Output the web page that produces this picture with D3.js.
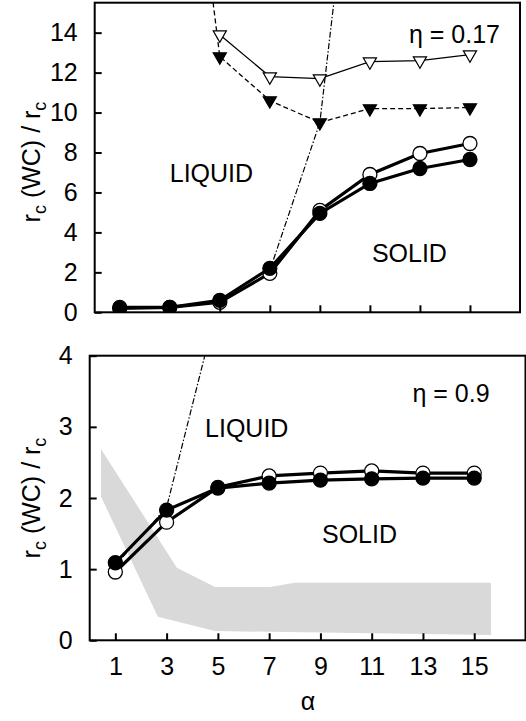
<!DOCTYPE html>
<html>
<head>
<meta charset="utf-8">
<script src="https://cdn.jsdelivr.net/npm/d3@7"></script>
<style>
body { margin: 0; background: #fff; }
svg { display: block; font-family: "Liberation Sans", Arial, sans-serif; }
</style>
</head>
<body>
<div id="chart"></div>
<script>
// alpha values shared by both panels
var alphas = [1, 3, 5, 7, 9, 11, 13, 15];

// top panel (eta = 0.17)
var topOpenCircles = [0.25, 0.25, 0.5, 1.95, 5.1, 6.9, 7.95, 8.45];
var topFilledCircles = [0.2, 0.25, 0.6, 2.2, 4.95, 6.45, 7.2, 7.65];
var openTriAlpha = [5, 7, 9, 11, 13, 15];
var openTriValues = [13.9, 11.8, 11.7, 12.55, 12.6, 12.9];
var filledTriAlpha = [3, 5, 7, 9, 11, 13, 15];
var filledTriValues = [33, 12.8, 10.6, 9.5, 10.2, 10.2, 10.25];
var topBoundaryAlpha = [7, 9, 11];
var topBoundaryValues = [2.1, 9.5, 31];
var topYTicks = [0, 2, 4, 6, 8, 10, 12, 14];

// bottom panel (eta = 0.9)
var botOpenCircles = [0.96, 1.66, 2.15, 2.31, 2.35, 2.38, 2.35, 2.35];
var botFilledCircles = [1.09, 1.83, 2.14, 2.21, 2.25, 2.27, 2.28, 2.28];
var botBoundaryAlpha = [1, 3, 5];
var botBoundaryValues = [1.05, 1.87, 4.73];
var bandUpperAlpha = [0.44, 3.4, 4.89, 7.03, 8.0, 15.65];
var bandUpper = [2.69, 1.02, 0.75, 0.75, 0.81, 0.81];
var bandLowerAlpha = [0.44, 2.66, 4.89, 15.65];
var bandLower = [2.02, 0.33, 0.13, 0.075];
var botYTicks = [0, 1, 2, 3, 4];
var xTicks = [1, 3, 5, 7, 9, 11, 13, 15];

var FS = 25;
var svg = d3.select("#chart").append("svg").attr("width", 526).attr("height", 721);

function zip(xs, ys) { return xs.map(function(a, i) { return [a, ys[i]]; }); }

function panel(opt) {
	var x = d3.scaleLinear().domain([0, 17]).range([opt.left, opt.right]);
	var y = d3.scaleLinear().domain([0, opt.ymax]).range([opt.bottom, opt.top]);
	var g = svg.append("g");
	var clipId = "clip" + opt.name;
	svg.append("clipPath").attr("id", clipId).append("rect")
		.attr("x", opt.left).attr("y", opt.top)
		.attr("width", opt.right - opt.left).attr("height", opt.bottom - opt.top);
	var plot = g.append("g").attr("clip-path", "url(#" + clipId + ")");
	var line = d3.line().x(function(d) { return x(d[0]); }).y(function(d) { return y(d[1]); });

	var ya = d3.axisLeft(y).tickValues(opt.yticks).tickSize(-7).tickPadding(17).tickFormat(d3.format("d"));
	g.append("g").attr("transform", "translate(" + opt.left + ",0)").call(ya);
	var xa = d3.axisBottom(x).tickValues(xTicks).tickSize(-7).tickPadding(17).tickFormat(opt.xlabels ? d3.format("d") : "");
	g.append("g").attr("transform", "translate(0," + opt.bottom + ")").call(xa);
	g.selectAll(".domain").remove();
	g.selectAll(".tick line").attr("stroke", "#000").attr("stroke-width", 2);
	g.selectAll(".tick text").attr("font-size", FS).attr("fill", "#000")
		.attr("font-family", "'Liberation Sans', Arial, sans-serif");

	g.append("rect").attr("x", opt.left).attr("y", opt.top)
		.attr("width", opt.right - opt.left).attr("height", opt.bottom - opt.top)
		.attr("fill", "none").attr("stroke", "#000").attr("stroke-width", 2);

	var lab = g.append("text").attr("font-size", FS)
		.attr("transform", "translate(40," + opt.labelY + ") rotate(-90)")
		.attr("text-anchor", "middle");
	lab.append("tspan").text("r");
	lab.append("tspan").attr("dy", 6).attr("font-size", 18).text("c");
	lab.append("tspan").attr("dy", -6).text(" (WC) / r");
	lab.append("tspan").attr("dy", 6).attr("font-size", 18).text("c");

	opt.notes.forEach(function(n) {
		g.append("text").attr("x", x(n.a)).attr("y", y(n.v)).attr("font-size", FS)
			.attr("text-anchor", n.anchor).text(n.t);
	});
	return { x: x, y: y, plot: plot, line: line };
}

function circles(p, vals, filled) {
	var pts = zip(alphas, vals);
	p.plot.append("path").attr("d", p.line(pts)).attr("fill", "none")
		.attr("stroke", "#000").attr("stroke-width", 3.2);
	p.plot.selectAll(null).data(pts).enter().append("circle")
		.attr("cx", function(d) { return p.x(d[0]); })
		.attr("cy", function(d) { return p.y(d[1]); })
		.attr("r", 7)
		.attr("fill", filled ? "#000" : "#fff")
		.attr("stroke", "#000").attr("stroke-width", 1.3);
}

function triangles(p, xs, vals, filled, dash) {
	var pts = zip(xs, vals);
	p.plot.append("path").attr("d", p.line(pts)).attr("fill", "none")
		.attr("stroke", "#000").attr("stroke-width", 1.3)
		.attr("stroke-dasharray", dash ? "5,3" : null);
	var sym = d3.symbol().type(d3.symbolTriangle).size(75);
	p.plot.selectAll(null).data(pts).enter().append("path")
		.attr("d", sym)
		.attr("transform", function(d) { return "translate(" + p.x(d[0]) + "," + p.y(d[1]) + ") rotate(180)"; })
		.attr("fill", filled ? "#000" : "#fff")
		.attr("stroke", "#000").attr("stroke-width", 1.2);
}

// ---- top panel
var topP = panel({ name: "top", left: 94.7, right: 520, top: 2.7, bottom: 312.3, ymax: 15.5,
	yticks: topYTicks, xlabels: false, labelY: 162,
	notes: [{ a: 3.0, v: 6.5, t: "LIQUID", anchor: "start" },
		{ a: 11.08, v: 2.5, t: "SOLID", anchor: "start" },
		{ a: 16.2, v: 13.5, t: "\u03b7 = 0.17", anchor: "end" }] });

topP.plot.append("path").attr("d", topP.line(zip(topBoundaryAlpha, topBoundaryValues)))
	.attr("fill", "none").attr("stroke", "#000").attr("stroke-width", 1.2)
	.attr("stroke-dasharray", "6,2,1.5,2");
triangles(topP, filledTriAlpha, filledTriValues, true, true);
triangles(topP, openTriAlpha, openTriValues, false, false);
circles(topP, topOpenCircles, false);
circles(topP, topFilledCircles, true);

// ---- bottom panel
var botP = panel({ name: "bot", left: 89.7, right: 525.5, top: 355.7, bottom: 640.3, ymax: 4,
	yticks: botYTicks, xlabels: true, labelY: 498,
	notes: [{ a: 4.5, v: 2.86, t: "LIQUID", anchor: "start" },
		{ a: 9.06, v: 1.37, t: "SOLID", anchor: "start" },
		{ a: 15.6, v: 3.35, t: "\u03b7 = 0.9", anchor: "end" }] });

var band = zip(bandUpperAlpha, bandUpper).concat(zip(bandLowerAlpha, bandLower).reverse());
botP.plot.append("path").attr("d", botP.line(band) + "Z").attr("fill", "#d9d9d9");
circles(botP, botOpenCircles, false);
circles(botP, botFilledCircles, true);
botP.plot.append("path").attr("d", botP.line(zip(botBoundaryAlpha, botBoundaryValues)))
	.attr("fill", "none").attr("stroke", "#000").attr("stroke-width", 1.2)
	.attr("stroke-dasharray", "6,2,1.5,2");

svg.append("text").attr("x", 308).attr("y", 710).attr("font-size", FS)
	.attr("text-anchor", "middle").text("\u03b1");
</script>
</body>
</html>
